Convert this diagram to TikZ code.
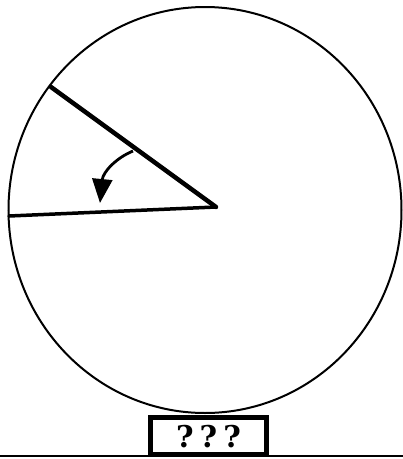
\documentclass[tikz,border=0pt]{standalone}
\usepackage{fontspec}
\newfontfamily\qfont{DejaVu Serif}
\usetikzlibrary{arrows.meta}
\begin{document}
\begin{tikzpicture}[x=1pt,y=-1pt,
  radius line/.style={line width=4.5pt,line cap=round},
  boxstyle/.style={draw,line width=5pt,minimum width=116pt,minimum height=37pt,inner sep=0pt}]
\useasboundingbox (0,0) rectangle (403,459);
\fill[white] (0,0) rectangle (403,459);
% wheel
\draw[line width=2pt] (205,210) ellipse [x radius=196.5, y radius=203];
\coordinate (c) at (216,207);
\coordinate (a) at (51,87);
\coordinate (b) at (9,216);
\draw[radius line] (c) -- (a);
\draw[line width=3.5pt,line cap=round] (c) -- (b);
% curved arrow
\coordinate (s) at (133,151);
\coordinate (t) at (100,203);
\draw[line width=2.8pt,-{Triangle[length=24pt,width=20pt]}] (s) .. controls (116,158) and (103,172) .. (t);
% box
\node[boxstyle] (box) at (208.5,435.5) {};
\node[yshift=-1pt] (q) at (box.center) {\qfont\bfseries\fontsize{30}{30}\selectfont ?\hspace{6pt}?\hspace{6pt}?};
% ground
\coordinate (g1) at (0,456);
\coordinate (g2) at (403,456);
\draw[line width=2pt] (g1) -- (g2);
\end{tikzpicture}
\end{document}
